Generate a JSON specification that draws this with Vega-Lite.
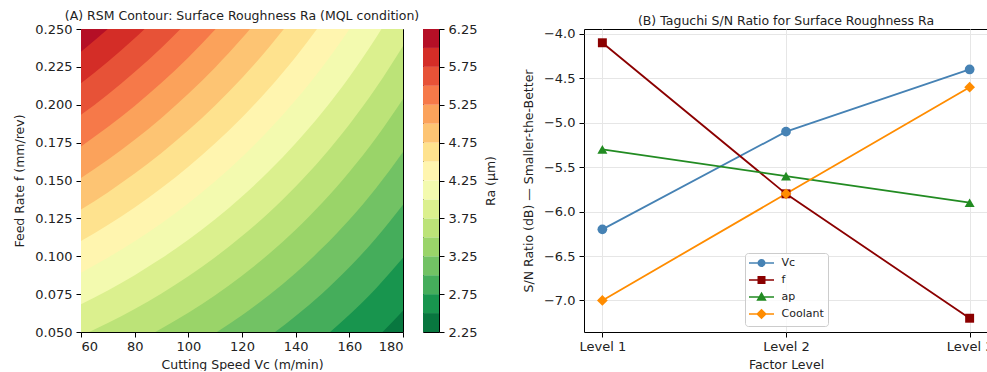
{
  "$schema": "https://vega.github.io/schema/vega-lite/v6.json",
  "padding": {"left": 13, "top": 9, "right": 0, "bottom": 0},
  "spacing": 20,
  "bounds": "flush",
  "config": {
    "font": "DejaVu Sans",
    "view": {"stroke": "#000", "strokeWidth": 1},
    "axis": {"domain": false, "tickColor": "#000", "tickSize": 5, "tickWidth": 1, "labelFontSize": 13, "labelColor": "#222", "titleFontSize": 12.5, "titleFontWeight": "normal", "titleColor": "#222", "labelPadding": 4, "titlePadding": 8, "grid": false, "labelFont": "DejaVu Sans", "titleFont": "DejaVu Sans"},
    "axisX": {"titlePadding": 5, "labelPadding": 3},
    "title": {"fontSize": 12.5, "fontWeight": "normal", "font": "DejaVu Sans", "color": "#222", "offset": 0.01}
  },
  "resolve": {"scale": {"x": "independent", "y": "independent", "color": "independent", "shape": "independent"}},
  "hconcat": [
    {
      "width": 322, "height": 303,
      "title": "(A) RSM Contour: Surface Roughness Ra (MQL condition)",
      "data": {"values": [
        {"level":2.25,"Vc":60,"f":0.05},{"level":2.25,"Vc":180,"f":0.05},
        {"level":2.5,"Vc":60,"f":-0.05667},{"level":2.5,"Vc":70,"f":-0.05189},{"level":2.5,"Vc":80,"f":-0.0465},{"level":2.5,"Vc":90,"f":-0.04043},{"level":2.5,"Vc":100,"f":-0.0336},{"level":2.5,"Vc":110,"f":-0.02591},{"level":2.5,"Vc":120,"f":-0.01726},{"level":2.5,"Vc":130,"f":-0.00752},{"level":2.5,"Vc":140,"f":0.00346},{"level":2.5,"Vc":150,"f":0.01586},{"level":2.5,"Vc":160,"f":0.02989},{"level":2.5,"Vc":170,"f":0.04583},{"level":2.5,"Vc":180,"f":0.06399},
        {"level":2.75,"Vc":60,"f":-0.03583},{"level":2.75,"Vc":70,"f":-0.03033},{"level":2.75,"Vc":80,"f":-0.02416},{"level":2.75,"Vc":90,"f":-0.01726},{"level":2.75,"Vc":100,"f":-0.00952},{"level":2.75,"Vc":110,"f":-0.00086},{"level":2.75,"Vc":120,"f":0.00885},{"level":2.75,"Vc":130,"f":0.01974},{"level":2.75,"Vc":140,"f":0.03198},{"level":2.75,"Vc":150,"f":0.04576},{"level":2.75,"Vc":160,"f":0.06131},{"level":2.75,"Vc":170,"f":0.07893},{"level":2.75,"Vc":180,"f":0.09895},
        {"level":3.0,"Vc":60,"f":-0.015},{"level":3.0,"Vc":70,"f":-0.00877},{"level":3.0,"Vc":80,"f":-0.00182},{"level":3.0,"Vc":90,"f":0.00592},{"level":3.0,"Vc":100,"f":0.01456},{"level":3.0,"Vc":110,"f":0.02419},{"level":3.0,"Vc":120,"f":0.03496},{"level":3.0,"Vc":130,"f":0.047},{"level":3.0,"Vc":140,"f":0.06049},{"level":3.0,"Vc":150,"f":0.07565},{"level":3.0,"Vc":160,"f":0.09272},{"level":3.0,"Vc":170,"f":0.11202},{"level":3.0,"Vc":180,"f":0.13392},
        {"level":3.25,"Vc":60,"f":0.00583},{"level":3.25,"Vc":70,"f":0.01279},{"level":3.25,"Vc":80,"f":0.02052},{"level":3.25,"Vc":90,"f":0.02909},{"level":3.25,"Vc":100,"f":0.03863},{"level":3.25,"Vc":110,"f":0.04925},{"level":3.25,"Vc":120,"f":0.06107},{"level":3.25,"Vc":130,"f":0.07426},{"level":3.25,"Vc":140,"f":0.08901},{"level":3.25,"Vc":150,"f":0.10555},{"level":3.25,"Vc":160,"f":0.12414},{"level":3.25,"Vc":170,"f":0.14512},{"level":3.25,"Vc":180,"f":0.16889},
        {"level":3.5,"Vc":60,"f":0.02667},{"level":3.5,"Vc":70,"f":0.03435},{"level":3.5,"Vc":80,"f":0.04286},{"level":3.5,"Vc":90,"f":0.05227},{"level":3.5,"Vc":100,"f":0.06271},{"level":3.5,"Vc":110,"f":0.0743},{"level":3.5,"Vc":120,"f":0.08718},{"level":3.5,"Vc":130,"f":0.10152},{"level":3.5,"Vc":140,"f":0.11753},{"level":3.5,"Vc":150,"f":0.13544},{"level":3.5,"Vc":160,"f":0.15555},{"level":3.5,"Vc":170,"f":0.17821},{"level":3.5,"Vc":180,"f":0.20385},
        {"level":3.75,"Vc":60,"f":0.0475},{"level":3.75,"Vc":70,"f":0.05591},{"level":3.75,"Vc":80,"f":0.0652},{"level":3.75,"Vc":90,"f":0.07544},{"level":3.75,"Vc":100,"f":0.08679},{"level":3.75,"Vc":110,"f":0.09935},{"level":3.75,"Vc":120,"f":0.11329},{"level":3.75,"Vc":130,"f":0.12878},{"level":3.75,"Vc":140,"f":0.14605},{"level":3.75,"Vc":150,"f":0.16534},{"level":3.75,"Vc":160,"f":0.18697},{"level":3.75,"Vc":170,"f":0.21131},{"level":3.75,"Vc":180,"f":0.23882},
        {"level":4.0,"Vc":60,"f":0.06833},{"level":4.0,"Vc":70,"f":0.07747},{"level":4.0,"Vc":80,"f":0.08754},{"level":4.0,"Vc":90,"f":0.09862},{"level":4.0,"Vc":100,"f":0.11087},{"level":4.0,"Vc":110,"f":0.12441},{"level":4.0,"Vc":120,"f":0.1394},{"level":4.0,"Vc":130,"f":0.15604},{"level":4.0,"Vc":140,"f":0.17457},{"level":4.0,"Vc":150,"f":0.19524},{"level":4.0,"Vc":160,"f":0.21838},{"level":4.0,"Vc":170,"f":0.24441},{"level":4.0,"Vc":180,"f":0.27379},
        {"level":4.25,"Vc":60,"f":0.08917},{"level":4.25,"Vc":70,"f":0.09903},{"level":4.25,"Vc":80,"f":0.10988},{"level":4.25,"Vc":90,"f":0.12179},{"level":4.25,"Vc":100,"f":0.13494},{"level":4.25,"Vc":110,"f":0.14946},{"level":4.25,"Vc":120,"f":0.16551},{"level":4.25,"Vc":130,"f":0.1833},{"level":4.25,"Vc":140,"f":0.20308},{"level":4.25,"Vc":150,"f":0.22513},{"level":4.25,"Vc":160,"f":0.2498},{"level":4.25,"Vc":170,"f":0.2775},{"level":4.25,"Vc":180,"f":0.30875},
        {"level":4.5,"Vc":60,"f":0.11},{"level":4.5,"Vc":70,"f":0.12059},{"level":4.5,"Vc":80,"f":0.13222},{"level":4.5,"Vc":90,"f":0.14497},{"level":4.5,"Vc":100,"f":0.15902},{"level":4.5,"Vc":110,"f":0.17451},{"level":4.5,"Vc":120,"f":0.19162},{"level":4.5,"Vc":130,"f":0.21056},{"level":4.5,"Vc":140,"f":0.2316},{"level":4.5,"Vc":150,"f":0.25503},{"level":4.5,"Vc":160,"f":0.28121},{"level":4.5,"Vc":170,"f":0.3106},{"level":4.5,"Vc":180,"f":0.34372},
        {"level":4.75,"Vc":60,"f":0.13083},{"level":4.75,"Vc":70,"f":0.14215},{"level":4.75,"Vc":80,"f":0.15456},{"level":4.75,"Vc":90,"f":0.16814},{"level":4.75,"Vc":100,"f":0.1831},{"level":4.75,"Vc":110,"f":0.19956},{"level":4.75,"Vc":120,"f":0.21773},{"level":4.75,"Vc":130,"f":0.23782},{"level":4.75,"Vc":140,"f":0.26012},{"level":4.75,"Vc":150,"f":0.28493},{"level":4.75,"Vc":160,"f":0.31263},{"level":4.75,"Vc":170,"f":0.34369},{"level":4.75,"Vc":180,"f":0.37869},
        {"level":5.0,"Vc":60,"f":0.15167},{"level":5.0,"Vc":70,"f":0.16371},{"level":5.0,"Vc":80,"f":0.1769},{"level":5.0,"Vc":90,"f":0.19132},{"level":5.0,"Vc":100,"f":0.20718},{"level":5.0,"Vc":110,"f":0.22462},{"level":5.0,"Vc":120,"f":0.24384},{"level":5.0,"Vc":130,"f":0.26508},{"level":5.0,"Vc":140,"f":0.28864},{"level":5.0,"Vc":150,"f":0.31482},{"level":5.0,"Vc":160,"f":0.34404},{"level":5.0,"Vc":170,"f":0.37679},{"level":5.0,"Vc":180,"f":0.41366},
        {"level":5.25,"Vc":60,"f":0.1725},{"level":5.25,"Vc":70,"f":0.18527},{"level":5.25,"Vc":80,"f":0.19924},{"level":5.25,"Vc":90,"f":0.21449},{"level":5.25,"Vc":100,"f":0.23125},{"level":5.25,"Vc":110,"f":0.24967},{"level":5.25,"Vc":120,"f":0.26995},{"level":5.25,"Vc":130,"f":0.29234},{"level":5.25,"Vc":140,"f":0.31715},{"level":5.25,"Vc":150,"f":0.34472},{"level":5.25,"Vc":160,"f":0.37546},{"level":5.25,"Vc":170,"f":0.40989},{"level":5.25,"Vc":180,"f":0.44862},
        {"level":5.5,"Vc":60,"f":0.19333},{"level":5.5,"Vc":70,"f":0.20683},{"level":5.5,"Vc":80,"f":0.22158},{"level":5.5,"Vc":90,"f":0.23767},{"level":5.5,"Vc":100,"f":0.25533},{"level":5.5,"Vc":110,"f":0.27472},{"level":5.5,"Vc":120,"f":0.29606},{"level":5.5,"Vc":130,"f":0.3196},{"level":5.5,"Vc":140,"f":0.34567},{"level":5.5,"Vc":150,"f":0.37461},{"level":5.5,"Vc":160,"f":0.40687},{"level":5.5,"Vc":170,"f":0.44298},{"level":5.5,"Vc":180,"f":0.48359},
        {"level":5.75,"Vc":60,"f":0.21417},{"level":5.75,"Vc":70,"f":0.22839},{"level":5.75,"Vc":80,"f":0.24392},{"level":5.75,"Vc":90,"f":0.26084},{"level":5.75,"Vc":100,"f":0.27941},{"level":5.75,"Vc":110,"f":0.29978},{"level":5.75,"Vc":120,"f":0.32217},{"level":5.75,"Vc":130,"f":0.34686},{"level":5.75,"Vc":140,"f":0.37419},{"level":5.75,"Vc":150,"f":0.40451},{"level":5.75,"Vc":160,"f":0.43829},{"level":5.75,"Vc":170,"f":0.47608},{"level":5.75,"Vc":180,"f":0.51856},
        {"level":6.0,"Vc":60,"f":0.235},{"level":6.0,"Vc":70,"f":0.24995},{"level":6.0,"Vc":80,"f":0.26626},{"level":6.0,"Vc":90,"f":0.28402},{"level":6.0,"Vc":100,"f":0.30349},{"level":6.0,"Vc":110,"f":0.32483},{"level":6.0,"Vc":120,"f":0.34828},{"level":6.0,"Vc":130,"f":0.37412},{"level":6.0,"Vc":140,"f":0.40271},{"level":6.0,"Vc":150,"f":0.43441},{"level":6.0,"Vc":160,"f":0.4697},{"level":6.0,"Vc":170,"f":0.50917},{"level":6.0,"Vc":180,"f":0.55352}
      ]},
      "mark": {"type": "area", "interpolate": "monotone", "clip": true},
      "encoding": {
        "x": {"field": "Vc", "type": "quantitative", "scale": {"domain": [60, 180], "nice": false}, "axis": {"values": [60, 80, 100, 120, 140, 160, 180], "title": "Cutting Speed Vc (m/min)"}},
        "y": {"field": "f", "type": "quantitative", "stack": null, "scale": {"domain": [0.05, 0.25], "nice": false, "zero": false}, "axis": {"values": [0.05, 0.075, 0.1, 0.125, 0.15, 0.175, 0.2, 0.225, 0.25], "format": ".3f", "title": "Feed Rate f (mm/rev)"}},
        "y2": {"datum": 0.25},
        "color": {"field": "level", "type": "ordinal", "legend": null, "scale": {"domain": [2.25, 2.5, 2.75, 3.0, 3.25, 3.5, 3.75, 4.0, 4.25, 4.5, 4.75, 5.0, 5.25, 5.5, 5.75, 6.0], "range": ["#08773f", "#18954e", "#45ad5b", "#72c264", "#9ad469", "#bce378", "#dbf08e", "#f3faaf", "#fff5af", "#fee28e", "#fdc473", "#fba25b", "#f67949", "#e75237", "#d42d27", "#b50f26"]}}
      }
    },
    {
      "width": 16, "height": 303,
      "data": {"values": [
        {"lo":2.25,"hi":2.5},{"lo":2.5,"hi":2.75},{"lo":2.75,"hi":3.0},{"lo":3.0,"hi":3.25},{"lo":3.25,"hi":3.5},{"lo":3.5,"hi":3.75},{"lo":3.75,"hi":4.0},{"lo":4.0,"hi":4.25},{"lo":4.25,"hi":4.5},{"lo":4.5,"hi":4.75},{"lo":4.75,"hi":5.0},{"lo":5.0,"hi":5.25},{"lo":5.25,"hi":5.5},{"lo":5.5,"hi":5.75},{"lo":5.75,"hi":6.0},{"lo":6.0,"hi":6.25}
      ]},
      "mark": {"type": "rect"},
      "encoding": {
        "y": {"field": "lo", "type": "quantitative", "scale": {"domain": [2.25, 6.25], "nice": false, "zero": false}, "axis": {"orient": "right", "values": [2.25, 2.75, 3.25, 3.75, 4.25, 4.75, 5.25, 5.75, 6.25], "format": ".2f", "title": "Ra (μm)", "titleAngle": 270, "titleBaseline": "top"}},
        "y2": {"field": "hi"},
        "color": {"field": "lo", "type": "ordinal", "legend": null, "scale": {"domain": [2.25, 2.5, 2.75, 3.0, 3.25, 3.5, 3.75, 4.0, 4.25, 4.5, 4.75, 5.0, 5.25, 5.5, 5.75, 6.0], "range": ["#08773f", "#18954e", "#45ad5b", "#72c264", "#9ad469", "#bce378", "#dbf08e", "#f3faaf", "#fff5af", "#fee28e", "#fdc473", "#fba25b", "#f67949", "#e75237", "#d42d27", "#b50f26"]}}
      }
    },
    {
      "width": 105, "height": 303,
      "view": {"stroke": null},
      "data": {"values": [{}]},
      "mark": {"type": "point", "opacity": 0},
      "encoding": {}
    },
    {
      "width": 404, "height": 303,
      "title": "(B) Taguchi S/N Ratio for Surface Roughness Ra",
      "data": {"values": [
        {"factor":"Vc","level":"Level 1","sn":-6.2},{"factor":"Vc","level":"Level 2","sn":-5.1},{"factor":"Vc","level":"Level 3","sn":-4.4},
        {"factor":"f","level":"Level 1","sn":-4.1},{"factor":"f","level":"Level 2","sn":-5.8},{"factor":"f","level":"Level 3","sn":-7.2},
        {"factor":"ap","level":"Level 1","sn":-5.3},{"factor":"ap","level":"Level 2","sn":-5.6},{"factor":"ap","level":"Level 3","sn":-5.9},
        {"factor":"Coolant","level":"Level 1","sn":-7.0},{"factor":"Coolant","level":"Level 2","sn":-5.8},{"factor":"Coolant","level":"Level 3","sn":-4.6}
      ]},
      "encoding": {
        "x": {"field": "level", "type": "ordinal", "scale": {"type": "point", "padding": 0.1}, "axis": {"labelAngle": 0, "grid": true, "gridColor": "#e6e6e6", "title": "Factor Level"}},
        "y": {"field": "sn", "type": "quantitative", "scale": {"domain": [-7.355, -3.945], "nice": false, "zero": false}, "axis": {"values": [-7.0, -6.5, -6.0, -5.5, -5.0, -4.5, -4.0], "labelExpr": "replace(format(datum.value, '.1f'), '-', '−')", "grid": true, "gridColor": "#e6e6e6", "title": "S/N Ratio (dB) — Smaller-the-Better"}},
        "color": {"field": "factor", "type": "nominal", "scale": {"domain": ["Vc", "f", "ap", "Coolant"], "range": ["#4682b4", "#8b0000", "#228b22", "#ff8c00"]},
          "legend": {"orient": "none", "legendX": 161, "legendY": 224, "title": null, "labelFontSize": 11, "labelColor": "#222", "labelOffset": 14, "symbolOffset": 6.5, "rowPadding": 3, "padding": 4, "fillColor": "rgba(255,255,255,0.8)", "strokeColor": "#cccccc", "cornerRadius": 3, "symbolSize": 100, "symbolStrokeWidth": 1.5, "symbolOpacity": 1}}
      },
      "layer": [
        {"mark": {"type": "line", "strokeWidth": 1.8}},
        {"transform": [{"filter": {"field": "factor", "equal": "Vc"}}], "mark": {"type": "point", "filled": true, "opacity": 1, "size": 95, "shape": "circle"}},
        {"transform": [{"filter": {"field": "factor", "equal": "f"}}], "mark": {"type": "point", "filled": true, "opacity": 1, "size": 80, "shape": "square"}},
        {"transform": [{"filter": {"field": "factor", "equal": "ap"}}], "mark": {"type": "point", "filled": true, "opacity": 1, "size": 100, "shape": "triangle-up"}},
        {"transform": [{"filter": {"field": "factor", "equal": "Coolant"}}], "mark": {"type": "point", "filled": true, "opacity": 1, "size": 115, "shape": "diamond"}},
        {"mark": {"type": "point", "filled": false, "size": 0, "strokeWidth": 1.5},
         "encoding": {
           "shape": {"field": "factor", "type": "nominal",
             "scale": {"domain": ["Vc", "f", "ap", "Coolant"], "range": [
               "M-2.5,0L2.5,0M0.65,0A0.65,0.65,0,1,1,-0.65,0A0.65,0.65,0,1,1,0.65,0ZM0.35,0A0.35,0.35,0,1,1,-0.35,0A0.35,0.35,0,1,1,0.35,0ZM0.1,0A0.1,0.1,0,1,1,-0.1,0A0.1,0.1,0,1,1,0.1,0Z",
               "M-2.5,0L2.5,0M-0.65,-0.65L0.65,-0.65L0.65,0.65L-0.65,0.65ZM-0.35,-0.35L0.35,-0.35L0.35,0.35L-0.35,0.35ZM-0.1,-0.1L0.1,-0.1L0.1,0.1L-0.1,0.1Z",
               "M-2.5,0L2.5,0M0,-0.75L0.775,0.575L-0.775,0.575ZM0,-0.3875L0.45,0.3875L-0.45,0.3875ZM0,-0.025L0.135,0.2L-0.135,0.2Z",
               "M-2.5,0L2.5,0M0,-0.85L0.85,0L0,0.85L-0.85,0ZM0,-0.5L0.5,0L0,0.5L-0.5,0ZM0,-0.15L0.15,0L0,0.15L-0.15,0Z"]},
             "legend": {"orient": "none", "legendX": 161, "legendY": 224, "title": null, "labelFontSize": 11, "labelColor": "#222", "labelOffset": 14, "symbolOffset": 6.5, "rowPadding": 3, "padding": 4, "fillColor": "rgba(255,255,255,0.8)", "strokeColor": "#cccccc", "cornerRadius": 3, "symbolSize": 100, "symbolStrokeWidth": 1.5, "symbolOpacity": 1}}
         }}
      ]
    }
  ]
}
